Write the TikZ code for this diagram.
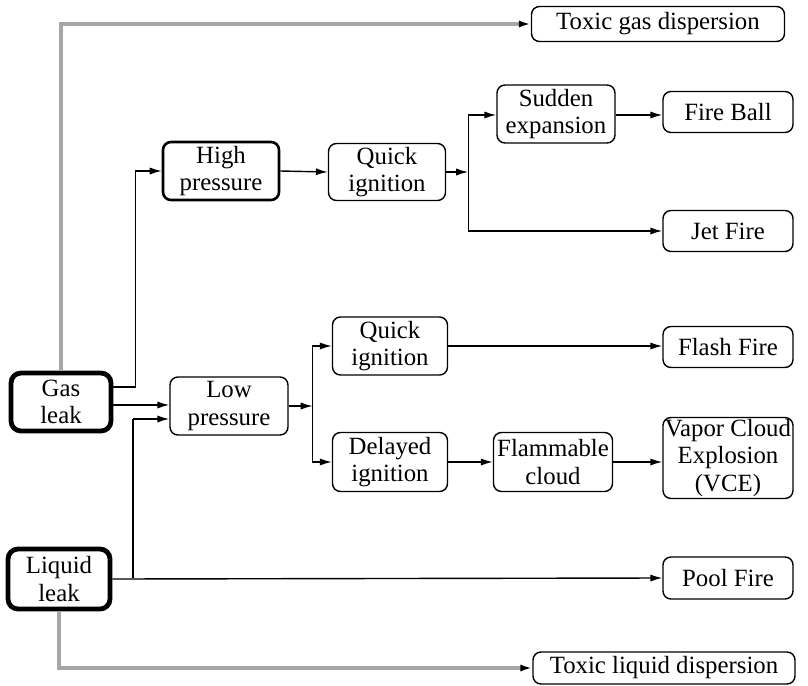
\documentclass[tikz,border=0pt]{standalone}
\usepackage{fontspec}
\setmainfont{Liberation Serif}
\usetikzlibrary{arrows.meta, calc}

\definecolor{spill gray}{HTML}{A6A6A6}

\tikzset{
	wh/.style 2 args={minimum width=#1*0.5pt, minimum height=#2*0.5pt},
	box/.style={draw, rounded corners=4pt, line width=0.7pt, align=center, inner sep=0pt,
		font=\fontsize{12.4}{13.6}\selectfont},
	high box/.style={box, line width=1.3pt},
	leak box/.style={box, line width=2.4pt, rounded corners=5pt},
	flow/.style={line width=0.7pt, -{Latex[length=6pt, width=3.6pt]}},
	spill/.style={spill gray, line width=2.2pt, -{Latex[length=6pt, width=3.6pt, color=black]}}
}

\begin{document}
\begin{tikzpicture}[x=0.5pt, y=-0.5pt]
	\useasboundingbox (0,0) rectangle (808,685);
	
	% sources
	\node [leak box, wh={100}{58}] (gas) at (61,402) {Gas\\leak};
	\node [leak box, wh={102}{60}] (liquid) at (59,579) {Liquid\\leak};
	
	% gas branch
	\node [high box, wh={116}{58}] (high) at (221,171) {High\\pressure};
	\node [box, wh={118}{58}] (low) at (229,406) {Low\\pressure};
	\node [box, wh={117}{57}] (quick high) at (387,172) {Quick\\ignition};
	\node [box, wh={118}{58}] (sudden) at (556,114) {Sudden\\expansion};
	\node [box, wh={115}{58}] (quick low) at (390,346) {Quick\\ignition};
	\node [box, wh={115}{59}] (delayed) at (390,462) {Delayed\\ignition};
	\node [box, wh={119}{59}] (cloud) at (553,462) {Flammable\\cloud};
	
	% outcomes
	\node [box, wh={253}{35}] (toxic gas) at (658,24) {Toxic gas dispersion};
	\node [box, wh={130}{41}] (fire ball) at (728,112) {Fire Ball};
	\node [box, wh={130}{41}] (jet fire) at (728,231) {Jet Fire};
	\node [box, wh={130}{41}] (flash fire) at (728,347) {Flash Fire};
	\node [box, wh={130}{81}] (vce) at (728,458) {Vapor Cloud\\Explosion\\(VCE)};
	\node [box, wh={130}{42}] (pool fire) at (728,578) {Pool Fire};
	\node [box, wh={262}{32}] (toxic liquid) at (664,668) {Toxic liquid dispersion};
	
	% toxic releases
	\draw [spill] (gas.north) |- (toxic gas.west);
	\draw [spill] (liquid.south) |- (toxic liquid.west);
	
	% junctions
	\coordinate (gas up) at ($(gas.east)+(0,-15)$);
	\coordinate (low in gas) at ($(low.west)+(0,-1)$);
	\coordinate (low in liquid) at ($(low.west)+(0,13)$);
	\coordinate (liquid riser) at (133,578);
	
	\draw [flow] (gas up) -- ++(22,0) |- (high.west);
	\draw [flow] (gas.east |- low in gas) -- (low in gas);
	\draw [flow] (liquid.east) -- (pool fire.west);
	\draw [line width=0.7pt] (liquid riser) -- (liquid riser |- low in liquid);
	\draw [flow] (liquid riser |- low in liquid) -- (low in liquid);
	
	\draw [flow] (high.east) -- (quick high.west);
	\draw [flow] (quick high.east) -- ++(22,0) coordinate (quick split);
	\draw [flow] (quick split) |- ($(sudden.west)+(0,1)$);
	\draw [flow] (quick split) |- (jet fire.west);
	\draw [flow] (sudden.east |- 0,115) -- (fire ball.west |- 0,115);
	
	\draw [flow] (low.east) -- ++(24,0) coordinate (low split);
	\draw [flow] (low split) |- (quick low.west);
	\draw [flow] (low split) |- (delayed.west);
	\draw [flow] (quick low.east) -- (flash fire.west |- quick low.east);
	\draw [flow] (delayed.east) -- (cloud.west);
	\draw [flow] (cloud.east) -- (vce.west |- cloud.east);
\end{tikzpicture}
\end{document}
